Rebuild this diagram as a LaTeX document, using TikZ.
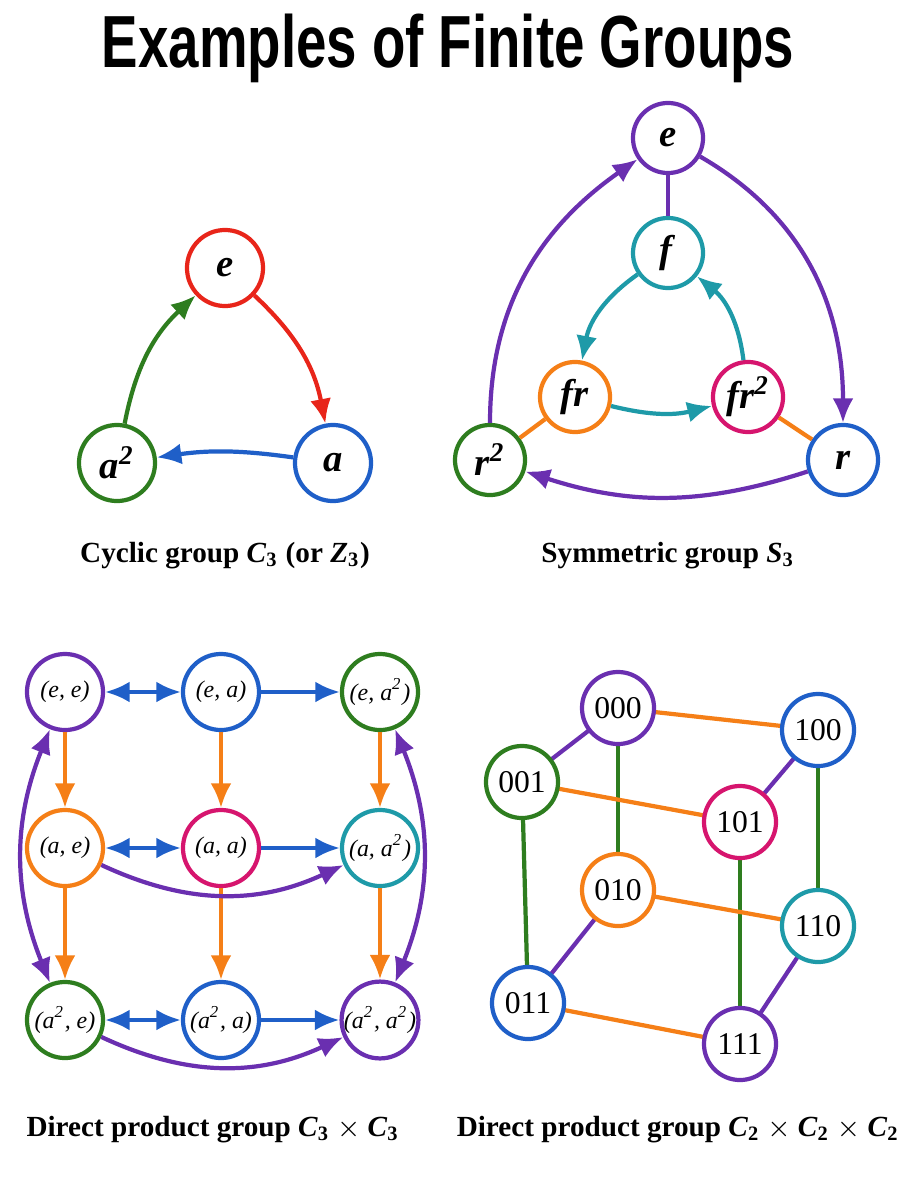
\documentclass[tikz,border=0pt]{standalone}
\usepackage{fontspec}
\usepackage{graphicx}
\setmainfont{Liberation Serif}
\newfontfamily\titlefont{Liberation Sans}
\usetikzlibrary{arrows.meta}
\definecolor{gpurple}{HTML}{6A2FB0}
\definecolor{gblue}{HTML}{1F5FC8}
\definecolor{ggreen}{HTML}{2E7D1F}
\definecolor{gorange}{HTML}{F57F17}
\definecolor{gred}{HTML}{E8251A}
\definecolor{gteal}{HTML}{1E9AA8}
\definecolor{gmag}{HTML}{D6156E}
\newcommand{\bi}[1]{\textbf{\textit{#1}}}
\newcommand{\sq}{\textsuperscript{2}}
\tikzset{
  elem/.style={circle, draw=#1, line width=1.2pt, minimum size=0.76cm, inner sep=0pt, fill=white, font=\fontsize{11}{11}\selectfont},
  small/.style={circle, draw=#1, line width=1.2pt, minimum size=0.76cm, inner sep=0pt, fill=white, font=\fontsize{6.8}{7}\selectfont\itshape},
  bit/.style={circle, draw=#1, line width=1.2pt, minimum size=0.72cm, inner sep=0pt, fill=white, font=\fontsize{9}{9}\selectfont},
  arr/.style={draw=#1, line width=1.2pt, -{Latex[length=7pt,width=6pt]}},
  arrr/.style={draw=#1, line width=1.2pt, {Latex[length=7pt,width=6pt]}-{Latex[length=7pt,width=6pt]}},
  edge/.style={draw=#1, line width=1.2pt},
  caption/.style={font=\fontsize{8.3}{10}\selectfont\bfseries}
}
\begin{document}
\begin{tikzpicture}[x=0.01cm, y=-0.01cm]
\useasboundingbox (0,0) rectangle (909,1200);
\node[font=\fontsize{21}{24}\selectfont\titlefont\bfseries] (title) at (448,48) {\scalebox{0.74}[1]{Examples of Finite Groups}};

% cyclic group
\node[elem=gred] (ce) at (225,268) {\bi{e}};
\node[elem=gblue] (ca) at (333,463) {\bi{a}};
\node[elem=ggreen] (ca2) at (117,463) {\bi{a\sq}};
\draw[arr=gred] (ce) to[bend left=18] (ca);
\draw[arr=gblue] (ca) to[bend right=8] (ca2);
\draw[arr=ggreen] (ca2) to[bend left=18] (ce);
\node[caption] (capc) at (225,556) {Cyclic group \textit{C}\textsubscript{3} (or \textit{Z}\textsubscript{3})};

% symmetric group
\node[elem=gpurple, minimum size=0.7cm] (se) at (668,138) {\bi{e}};
\node[elem=gteal, minimum size=0.7cm] (sf) at (668,253) {\bi{f}};
\node[elem=gorange, minimum size=0.7cm] (sfr) at (575,397) {\bi{fr}};
\node[elem=gmag, minimum size=0.7cm] (sfr2) at (748,397) {\bi{fr\sq}};
\node[elem=ggreen, minimum size=0.7cm] (sr2) at (490,460) {\bi{r\sq}};
\node[elem=gblue, minimum size=0.7cm] (sr) at (843,460) {\bi{r}};
\draw[edge=gpurple] (se) -- (sf);
\draw[edge=gorange] (sfr) -- (sr2);
\draw[edge=gorange] (sfr2) -- (sr);
\draw[arr=gpurple] (sr2.north) to[out=90, in=-145] (se);
\draw[arr=gpurple] (se) to[out=-30, in=90] (sr.north);
\draw[arr=gpurple] (sr) to[bend left=18] (sr2);
\draw[arr=gteal] (sf) to[bend right=22] (sfr);
\draw[arr=gteal] (sfr2) to[bend right=22] (sf);
\draw[arr=gteal] (sfr) to[bend right=14] (sfr2);
\node[caption] (caps) at (668,556) {Symmetric group \textit{S}\textsubscript{3}};

% direct product C3 x C3
\node[small=gpurple] (ee) at (65,692) {(e, e)};
\node[small=gblue] (ea) at (221,692) {(e, a)};
\node[small=ggreen] (eaa) at (380,692) {(e, a\sq)};
\node[small=gorange] (ae) at (65,848) {(a, e)};
\node[small=gmag] (aa) at (221,848) {(a, a)};
\node[small=gteal] (aaa) at (380,848) {(a, a\sq)};
\node[small=ggreen] (aae) at (65,1020) {(a\sq, e)};
\node[small=gblue] (aaa1) at (221,1020) {(a\sq, a)};
\node[small=gpurple] (aaaa) at (380,1020) {(a\sq, a\sq)};
\draw[arrr=gblue] (ee) -- (ea);
\draw[arr=gblue] (ea) -- (eaa);
\draw[arrr=gblue] (ae) -- (aa);
\draw[arr=gblue] (aa) -- (aaa);
\draw[arrr=gblue] (aae) -- (aaa1);
\draw[arr=gblue] (aaa1) -- (aaaa);
\draw[arr=gorange] (ee) -- (ae);
\draw[arr=gorange] (ae) -- (aae);
\draw[arr=gorange] (ea) -- (aa);
\draw[arr=gorange] (aa) -- (aaa1);
\draw[arr=gorange] (eaa) -- (aaa);
\draw[arr=gorange] (aaa) -- (aaaa);
\draw[arrr=gpurple] (ee) to[bend right=22] (aae);
\draw[arrr=gpurple] (eaa) to[bend left=22] (aaaa);
\draw[arr=gpurple] (ae) to[bend right=25] (aaa);
\draw[arr=gpurple] (aae) to[bend right=25] (aaaa);
\node[caption] (capd) at (213,1130) {Direct product group \textit{C}\textsubscript{3} $\times$ \textit{C}\textsubscript{3}};

% direct product C2 x C2 x C2
\coordinate (p000) at (618,708);
\coordinate (p100) at (818,730);
\coordinate (p001) at (522,782);
\coordinate (p101) at (740,822);
\coordinate (p010) at (618,890);
\coordinate (p110) at (818,926);
\coordinate (p011) at (528,1003);
\coordinate (p111) at (740,1044);
\draw[edge=gorange] (p000) -- (p100);
\draw[edge=gpurple] (p000) -- (p001);
\draw[edge=ggreen] (p000) -- (p010);
\draw[edge=gpurple] (p100) -- (p101);
\draw[edge=ggreen] (p100) -- (p110);
\draw[edge=gorange] (p001) -- (p101);
\draw[edge=ggreen] (p001) -- (p011);
\draw[edge=ggreen] (p101) -- (p111);
\draw[edge=gorange] (p010) -- (p110);
\draw[edge=gpurple] (p010) -- (p011);
\draw[edge=gpurple] (p110) -- (p111);
\draw[edge=gorange] (p011) -- (p111);
\node[bit=gpurple] (b000) at (p000) {000};
\node[bit=gblue] (b100) at (p100) {100};
\node[bit=ggreen] (b001) at (p001) {001};
\node[bit=gmag] (b101) at (p101) {101};
\node[bit=gorange] (b010) at (p010) {010};
\node[bit=gteal] (b110) at (p110) {110};
\node[bit=gblue] (b011) at (p011) {011};
\node[bit=gpurple] (b111) at (p111) {111};
\node[caption] (capb) at (678,1130) {Direct product group \textit{C}\textsubscript{2} $\times$ \textit{C}\textsubscript{2} $\times$ \textit{C}\textsubscript{2}};
\end{tikzpicture}
\end{document}
